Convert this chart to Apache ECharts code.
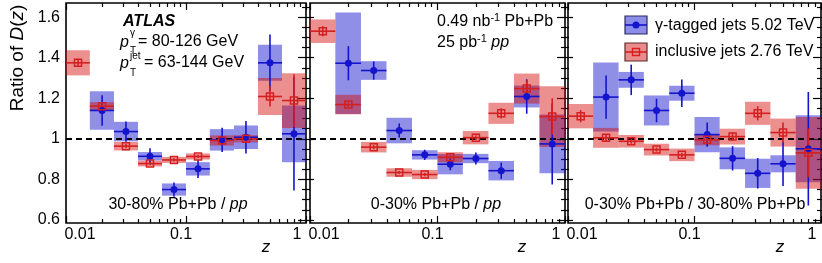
<!DOCTYPE html>
<html><head><meta charset="utf-8">
<script src="https://cdn.jsdelivr.net/npm/echarts@6/dist/echarts.min.js"></script>
<style>html,body{margin:0;padding:0;background:#fff}#c{width:822px;height:263px}</style>
</head><body><div id="c"></div>
<script>
// ---- bins in z ----
const zLow    = [0.01, 0.0158, 0.0251, 0.0398, 0.0631, 0.1, 0.158, 0.251, 0.398, 0.631];
const zHigh   = [0.0158, 0.0251, 0.0398, 0.0631, 0.1, 0.158, 0.251, 0.398, 0.631, 1.0];
const zCenter = [0.0126, 0.02, 0.0316, 0.0501, 0.0794, 0.126, 0.2, 0.316, 0.501, 0.794];

const yTickValues = [0.6, 0.8, 1, 1.2, 1.4, 1.6];
const xTickLabels = ['0.01', '0.1', '1'];

// ---- panel 1: 30-80% Pb+Pb / pp ----
const p1GammaVal  = [null, 1.14, 1.036, 0.914, 0.75, 0.852, 0.995, 1.008, 1.375, 1.025];
const p1GammaStat = [null, 0.075, 0.05, 0.04, 0.035, 0.045, 0.06, 0.08, 0.14, 0.28];
const p1GammaSys  = [null, 0.095, 0.048, 0.021, 0.03, 0.033, 0.053, 0.058, 0.089, 0.14];
const p1InclVal   = [1.375, 1.161, 0.964, 0.878, 0.896, 0.913, 0.992, 1.0, 1.209, 1.189];
const p1InclStat  = [0.02, 0.012, 0.01, 0.008, 0.008, 0.008, 0.015, 0.015, 0.05, 0.13];
const p1InclSys   = [0.062, 0.02, 0.021, 0.014, 0.015, 0.015, 0.025, 0.018, 0.091, 0.135];

// ---- panel 2: 0-30% Pb+Pb / pp ----
const p2GammaVal  = [null, 1.373, 1.337, 1.041, 0.921, 0.875, 0.903, 0.843, 1.209, 0.975];
const p2GammaStat = [null, 0.084, 0.045, 0.035, 0.025, 0.03, 0.03, 0.04, 0.085, 0.2];
const p2GammaSys  = [null, 0.25, 0.046, 0.063, 0.023, 0.05, 0.023, 0.048, 0.054, 0.145];
const p2InclVal   = [1.531, 1.169, 0.959, 0.834, 0.824, 0.909, 1.006, 1.126, 1.248, 1.11];
const p2InclStat  = [0.025, 0.012, 0.01, 0.008, 0.008, 0.01, 0.012, 0.025, 0.04, 0.09];
const p2InclSys   = [0.058, 0.048, 0.026, 0.021, 0.023, 0.025, 0.033, 0.052, 0.074, 0.15];

// ---- panel 3: 0-30% Pb+Pb / 30-80% Pb+Pb ----
const p3GammaVal  = [null, 1.206, 1.291, 1.14, 1.225, 1.021, 0.904, 0.83, 0.877, 0.951];
const p3GammaStat = [null, 0.107, 0.075, 0.058, 0.068, 0.06, 0.06, 0.075, 0.11, 0.28];
const p3GammaSys  = [null, 0.17, 0.039, 0.074, 0.037, 0.087, 0.054, 0.072, 0.042, 0.165];
const p3InclVal   = [1.112, 1.005, 0.988, 0.947, 0.921, 0.995, 1.011, 1.126, 1.031, 0.931];
const p3InclStat  = [0.03, 0.015, 0.012, 0.01, 0.01, 0.012, 0.02, 0.035, 0.05, 0.12];
const p3InclSys   = [0.06, 0.049, 0.031, 0.029, 0.031, 0.027, 0.039, 0.057, 0.069, 0.177];

const panels = [
  {gv:p1GammaVal, gs:p1GammaStat, gy:p1GammaSys, iv:p1InclVal, is:p1InclStat, iy:p1InclSys},
  {gv:p2GammaVal, gs:p2GammaStat, gy:p2GammaSys, iv:p2InclVal, is:p2InclStat, iy:p2InclSys},
  {gv:p3GammaVal, gs:p3GammaStat, gy:p3GammaSys, iv:p3InclVal, is:p3InclStat, iy:p3InclSys}
];

const FONT = '"Liberation Sans", Arial, Helvetica, sans-serif';
const BLUE = '#1414cc', RED = '#d42020';
const BLUE_BOX = 'rgba(10,10,205,0.46)', RED_BOX = 'rgba(212,10,10,0.46)';
const BLUE_ICON = '#8c8ceb', RED_ICON = '#eb8c8c';
const YMIN = 0.585, YMAX = 1.67;

const grids = [
  {left: 66, top: 3, width: 240, height: 220},
  {left: 310, top: 3, width: 255, height: 220},
  {left: 568, top: 3, width: 253, height: 220}
];

const xMajor = [-2, -1, 0];
const xMinor = [];
[-2, -1].forEach(d => { for (let k = 2; k <= 9; k++) xMinor.push(Math.log10(k) + d); });
const yMinor = [];
for (let v = 0.6; v <= 1.651; v += 0.05) { const r = Math.round(v * 100) / 100; if (Math.round(r * 100) % 20 !== 0) yMinor.push(r); }

function rows(val, stat, sys) {
  const out = [];
  val.forEach((v, i) => { if (v !== null) out.push([zLow[i], zHigh[i], v, stat[i], sys[i], zCenter[i]]); });
  return out;
}
function boxItem(color) {
  return function (params, api) {
    const lo = api.value(0), hi = api.value(1), y = api.value(2), sys = api.value(4);
    const a = api.coord([lo, y + sys]), b = api.coord([hi, y - sys]);
    return {type: 'rect', shape: {x: a[0], y: a[1], width: b[0] - a[0], height: b[1] - a[1]},
      style: {fill: color}};
  };
}
function errItem(color) {
  return function (params, api) {
    const lo = api.value(0), hi = api.value(1), y = api.value(2), st = api.value(3), xc = api.value(5);
    const a = api.coord([lo, y]), b = api.coord([hi, y]), c = api.coord([xc, y + st]), d = api.coord([xc, y - st]);
    return {type: 'group', children: [
      {type: 'line', shape: {x1: a[0], y1: a[1], x2: b[0], y2: b[1]}, style: {stroke: color, lineWidth: 1.6}},
      {type: 'line', shape: {x1: c[0], y1: c[1], x2: d[0], y2: d[1]}, style: {stroke: color, lineWidth: 1.6}}
    ]};
  };
}

const xAxis = [], yAxis = [], series = [];
const noSplit = {show: false};
grids.forEach((g, p) => {
  // x axes: data(log), bottom major, bottom minor, top major, top minor
  xAxis.push({type: 'log', logBase: 10, min: 0.01, max: 1, gridIndex: p, axisLine: {show: false}, axisTick: {show: false},
    splitLine: noSplit, axisLabel: {show: true, showMinLabel: true, showMaxLabel: true, hideOverlap: false, margin: 4,
      color: '#000', fontSize: 16, fontFamily: FONT,
      formatter: v => { const e = Math.round(Math.log10(v)); return e === -2 ? '{a|' + xTickLabels[0] + '}' : (e === -1 ? '{b|' + xTickLabels[1] + '}' : '{c|' + xTickLabels[2] + '}'); },
      rich: {a: {fontSize: 16, fontFamily: FONT, color: '#000', padding: [0, 0, 0, 28]},
             b: {fontSize: 16, fontFamily: FONT, color: '#000', padding: [0, 10, 0, 0]},
             c: {fontSize: 16, fontFamily: FONT, color: '#000', padding: [0, 18, 0, 0]}}}});
  [['bottom', xMajor, 7], ['bottom', xMinor, 4], ['top', xMajor, 7], ['top', xMinor, 4]].forEach(t => {
    xAxis.push({type: 'value', min: -2, max: 0, gridIndex: p, position: t[0], axisLine: {show: false}, splitLine: noSplit,
      axisLabel: {show: false}, axisTick: {show: true, inside: true, length: t[2], customValues: t[1], lineStyle: {color: '#000', width: 1.2}}});
  });
  // y axes: data(left), left major, left minor, right major, right minor
  yAxis.push({type: 'value', min: YMIN, max: YMAX, gridIndex: p, axisLine: {show: false}, axisTick: {show: false}, splitLine: noSplit,
    axisLabel: {show: p === 0, customValues: yTickValues, margin: 6, color: '#000', fontSize: 16, fontFamily: FONT}});
  [['left', yTickValues, 8], ['left', yMinor, 4], ['right', yTickValues, 8], ['right', yMinor, 4]].forEach(t => {
    yAxis.push({type: 'value', min: YMIN, max: YMAX, gridIndex: p, position: t[0], axisLine: {show: false}, splitLine: noSplit,
      axisLabel: {show: false}, axisTick: {show: true, inside: true, length: t[2], customValues: t[1], lineStyle: {color: '#000', width: 1.2}}});
  });
  const xi = p * 5, yi = p * 5, d = panels[p];
  const gRows = rows(d.gv, d.gs, d.gy), iRows = rows(d.iv, d.is, d.iy);
  series.push({type: 'custom', xAxisIndex: xi, yAxisIndex: yi, renderItem: boxItem(BLUE_BOX), data: gRows, encode: {x: [0, 1], y: 2}, z: 1, silent: true, clip: true});
  series.push({type: 'custom', xAxisIndex: xi, yAxisIndex: yi, renderItem: boxItem(RED_BOX), data: iRows, encode: {x: [0, 1], y: 2}, z: 1, silent: true, clip: true});
  series.push({type: 'custom', xAxisIndex: xi, yAxisIndex: yi, renderItem: errItem(BLUE), data: gRows, encode: {x: [0, 1], y: 2}, z: 3, silent: true, clip: true});
  series.push({type: 'custom', xAxisIndex: xi, yAxisIndex: yi, renderItem: errItem(RED), data: iRows, encode: {x: [0, 1], y: 2}, z: 3, silent: true, clip: true});
  series.push({type: 'scatter', xAxisIndex: xi, yAxisIndex: yi, z: 4, silent: true, symbol: 'circle', symbolSize: 7,
    itemStyle: {color: BLUE, opacity: 1}, data: gRows.map(r => [r[5], r[2]]),
    markLine: {silent: true, symbol: ['none', 'none'], label: {show: false}, z: 2,
      lineStyle: {color: '#000', type: [6, 4], width: 2}, data: [{yAxis: 1}]}});
  series.push({type: 'scatter', xAxisIndex: xi, yAxisIndex: yi, z: 5, silent: true, symbol: 'rect', symbolSize: 7,
    itemStyle: {color: 'rgba(255,255,255,0)', borderColor: RED, borderWidth: 1.5, opacity: 1}, data: iRows.map(r => [r[5], r[2]])});
});

const txt = (x, y, text, extra) => Object.assign({type: 'text', x: x, y: y, z: 100,
  style: Object.assign({text: text, fill: '#000', font: '16px ' + FONT, verticalAlign: 'middle', align: 'left'}, extra || {})});
const rich = {n: {fontSize: 16, fontFamily: FONT, fill: '#000'}, i: {fontSize: 16, fontFamily: FONT, fontStyle: 'italic', fill: '#000'},
  s: {fontSize: 11, fontFamily: FONT, fill: '#000', padding: [0, 0, 9, 0]}};

const graphic = [
  // y title
  {type: 'text', x: 18, y: 58, rotation: Math.PI / 2, z: 100,
    style: {text: '{n|Ratio of }{i|D}{n|(}{i|z}{n|)}', align: 'center', verticalAlign: 'middle',
      rich: {n: {fontSize: 19, fontFamily: FONT, fill: '#000'}, i: {fontSize: 19, fontFamily: FONT, fontStyle: 'italic', fill: '#000'}}}},
  // x titles
  txt(266, 247, 'z', {font: 'italic 17px ' + FONT, align: 'center'}),
  txt(522, 247, 'z', {font: 'italic 17px ' + FONT, align: 'center'}),
  txt(780, 247, 'z', {font: 'italic 17px ' + FONT, align: 'center'}),
  // panel 1
  txt(123, 22, 'ATLAS', {font: 'italic bold 16px ' + FONT}),
  txt(120, 43, 'p', {font: 'italic 16px ' + FONT}),
  txt(130, 33, 'γ', {font: '10px ' + FONT}),
  txt(130, 51, 'T', {font: '10px ' + FONT}),
  txt(138, 42, '= 80-126 GeV'),
  txt(120, 64, 'p', {font: 'italic 16px ' + FONT}),
  txt(130, 56, 'jet', {font: '10px ' + FONT}),
  txt(130, 73, 'T', {font: '10px ' + FONT}),
  txt(144, 63, '= 63-144 GeV'),
  {type: 'text', x: 178, y: 205, z: 100, style: {text: '{n|30-80% Pb+Pb / }{i|pp}', align: 'center', verticalAlign: 'middle', rich: rich}},
  // panel 2
  {type: 'text', x: 437, y: 22, z: 100, style: {text: '{n|0.49 nb}{s|-1}{n| Pb+Pb}', align: 'left', verticalAlign: 'middle', rich: rich}},
  {type: 'text', x: 437, y: 43, z: 100, style: {text: '{n|25 pb}{s|-1}{n| }{i|pp}', align: 'left', verticalAlign: 'middle', rich: rich}},
  {type: 'text', x: 436, y: 205, z: 100, style: {text: '{n|0-30% Pb+Pb / }{i|pp}', align: 'center', verticalAlign: 'middle', rich: rich}},
  // panel 3 legend
  {type: 'rect', z: 100, shape: {x: 625, y: 16, width: 22, height: 18}, style: {fill: BLUE_ICON, stroke: '#2a2a5a', lineWidth: 1.2}},
  {type: 'line', z: 101, shape: {x1: 625, y1: 25, x2: 647, y2: 25}, style: {stroke: BLUE, lineWidth: 1.6}},
  {type: 'circle', z: 102, shape: {cx: 636, cy: 25, r: 3.5}, style: {fill: BLUE}},
  txt(655, 26, 'γ-tagged jets 5.02 TeV'),
  {type: 'rect', z: 100, shape: {x: 625, y: 43, width: 22, height: 18}, style: {fill: RED_ICON, stroke: '#5a2a2a', lineWidth: 1.2}},
  {type: 'line', z: 101, shape: {x1: 625, y1: 52, x2: 647, y2: 52}, style: {stroke: RED, lineWidth: 1.6}},
  {type: 'rect', z: 102, shape: {x: 632.5, y: 48.5, width: 7, height: 7}, style: {fill: 'rgba(0,0,0,0)', stroke: RED, lineWidth: 1.5}},
  txt(655, 52, 'inclusive jets 2.76 TeV'),
  {type: 'text', x: 695, y: 205, z: 100, style: {text: '0-30% Pb+Pb / 30-80% Pb+Pb', fill: '#000', font: '16px ' + FONT, align: 'center', verticalAlign: 'middle'}}
];

const chart = echarts.init(document.getElementById('c'), null, {renderer: 'canvas'});
chart.setOption({
  animation: false,
  backgroundColor: '#fff',
  grid: grids.map(g => Object.assign({show: true, borderColor: '#000', borderWidth: 1.6, backgroundColor: 'rgba(0,0,0,0)', containLabel: false}, g)),
  xAxis: xAxis, yAxis: yAxis, series: series, graphic: graphic
});
</script></body></html>
